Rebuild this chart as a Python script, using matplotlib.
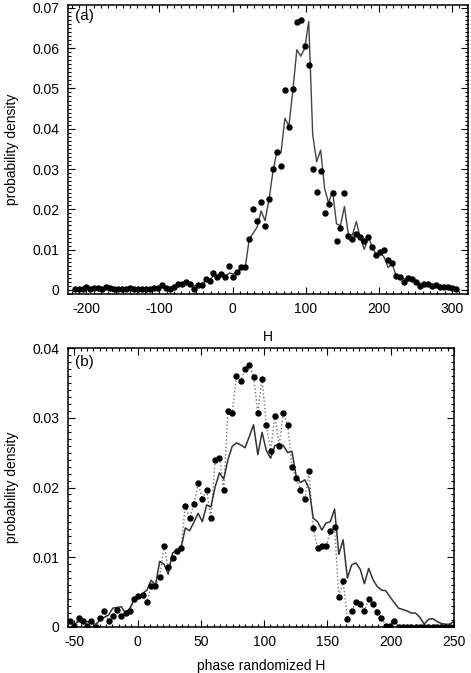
import matplotlib
matplotlib.use("Agg")
import matplotlib.pyplot as plt
import numpy as np
from matplotlib.ticker import MultipleLocator

plt.rcParams['font.family'] = ['Liberation Sans', 'DejaVu Sans']
plt.rcParams['font.size'] = 10
plt.rcParams['axes.unicode_minus'] = False

# (a) histogram of H: dots = data, line = model
h_a = np.linspace(-216, 305, 97)
dots_a = [0.0003, 0.0003, 0.0003, 0.0007, 0.0003, 0.0005, 0.0005, 0.0003, 0.0007, 0.0005,
          0.0003, 0.0003, 0.0003, 0.0003, 0.0005, 0.0003, 0.0003, 0.0003, 0.0003, 0.0003,
          0.0005, 0.0005, 0.0012, 0.0005, 0.0003, 0.0008, 0.0015, 0.0015, 0.0021, 0.0014,
          0.0002, 0.0012, 0.0012, 0.0027, 0.0022, 0.0041, 0.0033, 0.0040, 0.0033, 0.0060,
          0.0032, 0.0045, 0.0056, 0.0056, 0.0126, 0.0202, 0.0171, 0.0219, 0.0159, 0.0225,
          0.0300, 0.0343, 0.0308, 0.0495, 0.0405, 0.0498, 0.0664, 0.0670, 0.0606, 0.0558,
          0.0300, 0.0244, 0.0296, 0.0190, 0.0213, 0.0241, 0.0122, 0.0153, 0.0240, 0.0134,
          0.0126, 0.0139, 0.0132, 0.0122, 0.0131, 0.0107, 0.0087, 0.0095, 0.0099, 0.0074,
          0.0066, 0.0035, 0.0031, 0.0021, 0.0029, 0.0027, 0.0021, 0.0010, 0.0015, 0.0014,
          0.0010, 0.0012, 0.0008, 0.0008, 0.0007, 0.0005, 0.0002]
line_a = [0.0003, 0.0003, 0.0003, 0.0004, 0.0004, 0.0004, 0.0004, 0.0004, 0.0004, 0.0004,
          0.0004, 0.0003, 0.0003, 0.0003, 0.0003, 0.0004, 0.0004, 0.0004, 0.0004, 0.0004,
          0.0005, 0.0006, 0.0008, 0.0007, 0.0006, 0.0008, 0.0012, 0.0015, 0.0018, 0.0015,
          0.0010, 0.0012, 0.0015, 0.0022, 0.0025, 0.0035, 0.0036, 0.0038, 0.0035, 0.0042,
          0.0040, 0.0045, 0.0054, 0.0055, 0.0126, 0.0141, 0.0156, 0.0196, 0.0172, 0.0225,
          0.0295, 0.0345, 0.0340, 0.0426, 0.0407, 0.0495, 0.0596, 0.0580, 0.0600, 0.0666,
          0.0385, 0.0318, 0.0347, 0.0252, 0.0216, 0.0246, 0.0164, 0.0160, 0.0207, 0.0136,
          0.0136, 0.0170, 0.0128, 0.0101, 0.0132, 0.0107, 0.0087, 0.0093, 0.0081, 0.0056,
          0.0066, 0.0035, 0.0033, 0.0028, 0.0026, 0.0023, 0.0020, 0.0017, 0.0015, 0.0013,
          0.0012, 0.0010, 0.0009, 0.0008, 0.0006, 0.0004, 0.0003]

# (b) phase randomized H
h_b = np.linspace(-53.3, 250, 91)
dots_b = [0.0009, 0.0002, 0.0013, 0.0009, 0.0002, 0.0009, 0.0000, 0.0013, 0.0023, 0.0009,
          0.0016, 0.0024, 0.0016, 0.0020, 0.0023, 0.0040, 0.0044, 0.0046, 0.0036, 0.0059,
          0.0059, 0.0072, 0.0116, 0.0086, 0.0099, 0.0109, 0.0113, 0.0174, 0.0156, 0.0176,
          0.0206, 0.0183, 0.0197, 0.0156, 0.0240, 0.0243, 0.0197, 0.0310, 0.0307, 0.0360,
          0.0353, 0.0370, 0.0376, 0.0359, 0.0307, 0.0356, 0.0290, 0.0253, 0.0303, 0.0260,
          0.0307, 0.0290, 0.0229, 0.0213, 0.0197, 0.0183, 0.0223, 0.0142, 0.0113, 0.0116,
          0.0116, 0.0137, 0.0143, 0.0043, 0.0066, 0.0012, 0.0023, 0.0036, 0.0033, 0.0023,
          0.0040, 0.0033, 0.0022, 0.0013, 0.0002, 0.0002, 0.0009, 0.0, 0.0, 0.0,
          0.0, 0.0, 0.0, 0.0, 0.0, 0.0, 0.0, 0.0, 0.0, 0.0, 0.0]
line_b = [0.0005, 0.0004, 0.0008, 0.0005, 0.0008, 0.0005, 0.0004, 0.0010, 0.0014, 0.0017,
          0.0027, 0.0028, 0.0029, 0.0020, 0.0027, 0.0039, 0.0044, 0.0048, 0.0053, 0.0067,
          0.0060, 0.0094, 0.0090, 0.0076, 0.0106, 0.0110, 0.0113, 0.0142, 0.0138, 0.0150,
          0.0163, 0.0151, 0.0175, 0.0172, 0.0201, 0.0221, 0.0212, 0.0240, 0.0259, 0.0264,
          0.0261, 0.0257, 0.0273, 0.0290, 0.0247, 0.0279, 0.0253, 0.0242, 0.0260, 0.0263,
          0.0260, 0.0250, 0.0252, 0.0216, 0.0207, 0.0211, 0.0199, 0.0156, 0.0151, 0.0139,
          0.0149, 0.0151, 0.0169, 0.0104, 0.0125, 0.0070, 0.0089, 0.0092, 0.0083, 0.0062,
          0.0084, 0.0068, 0.0058, 0.0053, 0.0052, 0.0043, 0.0035, 0.0027, 0.0025, 0.0023,
          0.0020, 0.0020, 0.0014, 0.0004, 0.0011, 0.0012, 0.0008, 0.0005, 0.0004, 0.0004, 0.0008]

fig = plt.figure(figsize=(4.71, 6.73), dpi=100)
ax1 = fig.add_axes([68/471, 1-294/673, 400/471, 289/673])
ax2 = fig.add_axes([68/471, 1-627/673, 386/471, 279/673])


def style(ax):
    for s in ax.spines.values():
        s.set_linewidth(1.1)
    ax.tick_params(which='both', direction='in', top=True, right=True, width=0.8)
    ax.tick_params(which='major', length=5, pad=6)
    ax.tick_params(which='minor', length=2.5)


# top panel
ax1.plot(h_a, line_a, color='#444444', lw=1.0, zorder=2)
ax1.plot(h_a, dots_a, 'o', color='black', ms=3.6, zorder=3)
ax1.set_xlim(-225, 322)
ax1.set_ylim(-0.001, 0.0707)
ax1.xaxis.set_major_locator(MultipleLocator(100))
ax1.xaxis.set_minor_locator(MultipleLocator(10))
ax1.yaxis.set_minor_locator(MultipleLocator(0.001))
ax1.set_yticks([0, 0.01, 0.02, 0.03, 0.04, 0.05, 0.06, 0.07])
ax1.set_yticklabels(['0', '0.01', '0.02', '0.03', '0.04', '0.05', '0.06', '0.07'])
ax1.set_xlabel('H', labelpad=10)
ax1.set_ylabel('probability density', labelpad=10)
ax1.text(0.018, 0.985, '(a)', transform=ax1.transAxes, ha='left', va='top', fontsize=11)
style(ax1)

# bottom panel
ax2.plot(h_b, dots_b, ':', color='#777777', lw=1.0, zorder=2)
ax2.plot(h_b, line_b, '-', color='#333333', lw=1.1, zorder=2)
ax2.plot(h_b, dots_b, 'o', color='black', ms=3.6, zorder=3)
ax2.set_xlim(-55, 250)
ax2.set_ylim(0, 0.04)
ax2.xaxis.set_major_locator(MultipleLocator(50))
ax2.xaxis.set_minor_locator(MultipleLocator(5))
ax2.set_yticks([0, 0.01, 0.02, 0.03, 0.04])
ax2.set_yticklabels(['0', '0.01', '0.02', '0.03', '0.04'])
ax2.yaxis.set_minor_locator(MultipleLocator(0.001))
ax2.set_xlabel('phase randomized H', labelpad=7)
ax2.set_ylabel('probability density', labelpad=10)
ax2.text(0.018, 0.975, '(b)', transform=ax2.transAxes, ha='left', va='top', fontsize=11)
style(ax2)

fig.savefig('out.png', dpi=100)
